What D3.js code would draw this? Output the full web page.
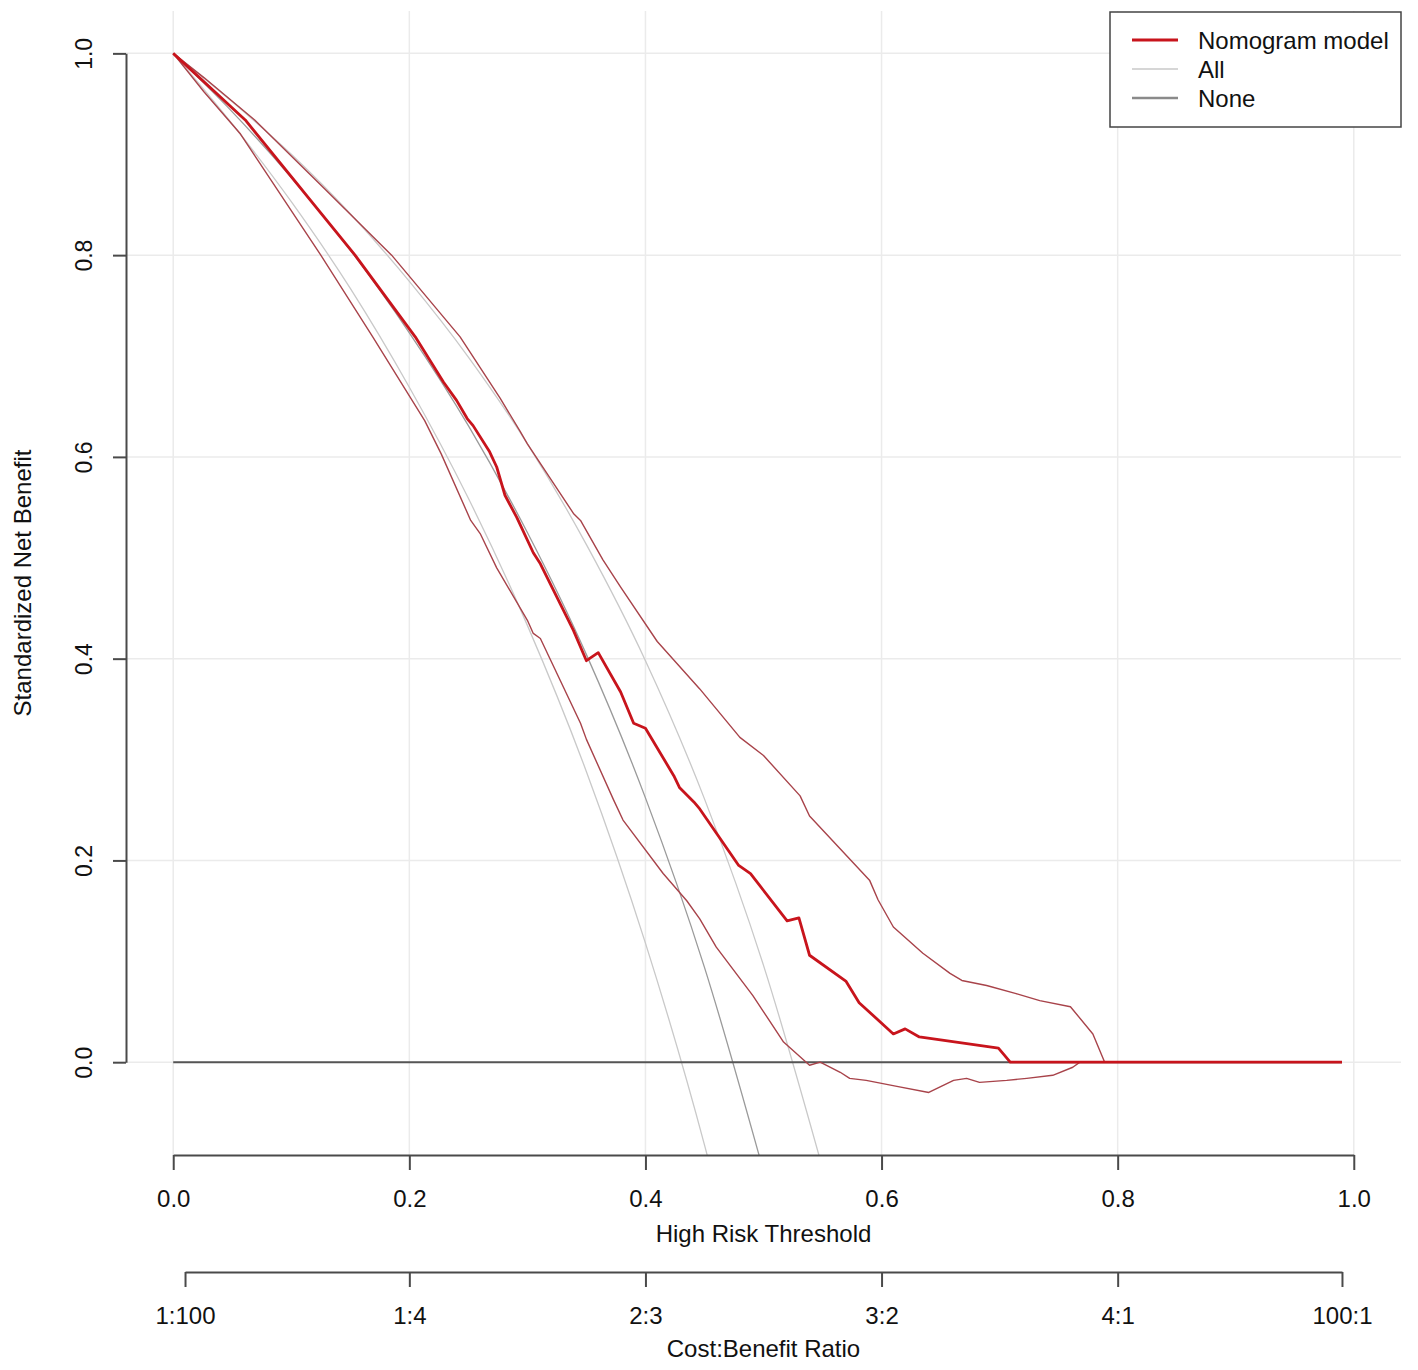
<!DOCTYPE html>
<html>
<head>
<meta charset="utf-8">
<script src="https://cdn.jsdelivr.net/npm/d3@7"></script>
<style>
  body { margin: 0; background: #fff; }
  text { font-family: "Liberation Sans", Arial, sans-serif; fill: #111; }
</style>
</head>
<body>
<svg id="chart" width="1418" height="1370"></svg>
<script>
// decision curve, values: [threshold, standardized net benefit]
var nomogram = [[0, 1.0], [0.061, 0.934], [0.154, 0.800], [0.205, 0.719], [0.229, 0.674],
  [0.240, 0.656], [0.249, 0.638], [0.254, 0.631], [0.268, 0.605],
  [0.274, 0.590], [0.281, 0.562], [0.291, 0.540], [0.305, 0.505], [0.311, 0.494],
  [0.339, 0.428], [0.350, 0.398], [0.360, 0.406], [0.379, 0.367], [0.390, 0.336],
  [0.400, 0.331], [0.424, 0.284], [0.429, 0.272], [0.441, 0.258], [0.446, 0.251],
  [0.479, 0.195], [0.489, 0.187], [0.520, 0.140], [0.530, 0.143], [0.539, 0.106],
  [0.570, 0.080], [0.581, 0.059], [0.610, 0.028], [0.620, 0.033], [0.632, 0.025],
  [0.699, 0.014], [0.709, 0], [0.99, 0]];

var nomogramUpper = [[0, 1.0], [0.026, 0.976], [0.069, 0.934], [0.128, 0.866], [0.185, 0.800],
  [0.243, 0.719], [0.277, 0.658], [0.294, 0.625], [0.300, 0.613],
  [0.339, 0.544], [0.345, 0.537], [0.364, 0.498], [0.379, 0.471], [0.410, 0.417],
  [0.446, 0.370], [0.480, 0.322], [0.500, 0.304], [0.531, 0.264], [0.539, 0.244],
  [0.590, 0.180], [0.597, 0.161], [0.610, 0.134], [0.635, 0.108], [0.658, 0.088],
  [0.668, 0.081], [0.689, 0.076], [0.714, 0.068], [0.734, 0.061], [0.760, 0.055],
  [0.779, 0.028], [0.789, 0], [0.99, 0]];

var nomogramLower = [[0, 1.0], [0.026, 0.962], [0.057, 0.920], [0.125, 0.800], [0.169, 0.719],
  [0.213, 0.636], [0.227, 0.603], [0.252, 0.537], [0.260, 0.524], [0.274, 0.490],
  [0.300, 0.438], [0.305, 0.425], [0.311, 0.420], [0.345, 0.336], [0.350, 0.320],
  [0.373, 0.260], [0.381, 0.240], [0.415, 0.187], [0.435, 0.160], [0.446, 0.142],
  [0.460, 0.114], [0.491, 0.066], [0.517, 0.020], [0.539, -0.003], [0.548, 0],
  [0.565, -0.010], [0.573, -0.016], [0.587, -0.018], [0.613, -0.024], [0.640, -0.030],
  [0.661, -0.018], [0.672, -0.016], [0.683, -0.020], [0.706, -0.018], [0.723, -0.016],
  [0.745, -0.013], [0.762, -0.005], [0.768, 0], [0.99, 0]];

var treatAll = [[0, 1], [0.05, 0.942], [0.1, 0.877], [0.15, 0.805], [0.2, 0.723], [0.25, 0.631],
  [0.3, 0.525], [0.35, 0.404], [0.4, 0.262], [0.45, 0.094], [0.5, -0.108]];
var treatAllUpper = [[0, 1], [0.05, 0.952], [0.1, 0.900], [0.15, 0.841], [0.2, 0.774], [0.25, 0.699],
  [0.3, 0.613], [0.35, 0.513], [0.4, 0.398], [0.45, 0.261], [0.5, 0.096], [0.55, -0.105]];
var treatAllLower = [[0, 1], [0.05, 0.930], [0.1, 0.853], [0.15, 0.767], [0.2, 0.669], [0.25, 0.559],
  [0.3, 0.433], [0.35, 0.288], [0.4, 0.118], [0.45, -0.082], [0.5, -0.322]];
var treatNone = [[0, 0], [0.99, 0]];

var xTicks = [0, 0.2, 0.4, 0.6, 0.8, 1.0];
var yTicks = [0, 0.2, 0.4, 0.6, 0.8, 1.0];
var cbTicks = [0.01, 0.2, 0.4, 0.6, 0.8, 0.99];
var cbLabels = ["1:100", "1:4", "2:3", "3:2", "4:1", "100:1"];

var svg = d3.select("#chart");

// plot region like R: limits padded by 4%
var x = d3.scaleLinear().domain([-0.04, 1.04]).range([126, 1401]);
var y = d3.scaleLinear().domain([-0.092, 1.042]).range([1155, 11]);

var axisCol = "#4a4a4a";

svg.append("clipPath").attr("id", "plotclip")
  .append("rect")
    .attr("x", x(-0.04)).attr("y", y(1.042))
    .attr("width", x(1.04) - x(-0.04))
    .attr("height", y(-0.092) - y(1.042));

// grid
var grid = svg.append("g");
grid.selectAll("line.v").data(xTicks).enter().append("line")
  .attr("x1", function(d){ return x(d); }).attr("x2", function(d){ return x(d); })
  .attr("y1", y(1.042)).attr("y2", y(-0.092))
  .attr("stroke", "#ebebeb").attr("stroke-width", 1.5);
grid.selectAll("line.h").data(yTicks).enter().append("line")
  .attr("y1", function(d){ return y(d); }).attr("y2", function(d){ return y(d); })
  .attr("x1", x(-0.04)).attr("x2", x(1.04))
  .attr("stroke", "#ebebeb").attr("stroke-width", 1.5);

var line = d3.line()
  .x(function(d){ return x(d[0]); })
  .y(function(d){ return y(d[1]); });
var smooth = d3.line()
  .x(function(d){ return x(d[0]); })
  .y(function(d){ return y(d[1]); })
  .curve(d3.curveMonotoneX);

var plot = svg.append("g").attr("clip-path", "url(#plotclip)");

plot.append("path").datum(treatAllLower).attr("d", smooth)
  .attr("fill", "none").attr("stroke", "#c9c9c9").attr("stroke-width", 1.3);
plot.append("path").datum(treatAllUpper).attr("d", smooth)
  .attr("fill", "none").attr("stroke", "#c9c9c9").attr("stroke-width", 1.3);
plot.append("path").datum(treatAll).attr("d", smooth)
  .attr("fill", "none").attr("stroke", "#9a9a9a").attr("stroke-width", 1.3);
plot.append("path").datum(treatNone).attr("d", line)
  .attr("fill", "none").attr("stroke", "#555555").attr("stroke-width", 2);

plot.append("path").datum(nomogramUpper).attr("d", line)
  .attr("fill", "none").attr("stroke", "#a8434a").attr("stroke-width", 1.4)
  .attr("stroke-linejoin", "round");
plot.append("path").datum(nomogramLower).attr("d", line)
  .attr("fill", "none").attr("stroke", "#a8434a").attr("stroke-width", 1.4)
  .attr("stroke-linejoin", "round");
plot.append("path").datum(nomogram).attr("d", line)
  .attr("fill", "none").attr("stroke", "#c8141c").attr("stroke-width", 2.8)
  .attr("stroke-linejoin", "round");

// axes
function styleAxis(g) {
  g.select(".domain").attr("stroke", axisCol).attr("stroke-width", 2);
  g.selectAll(".tick line").attr("stroke", axisCol).attr("stroke-width", 2);
  g.selectAll(".tick text").attr("fill", "#111")
    .style("font-family", "'Liberation Sans', Arial, sans-serif");
}

var xa = d3.scaleLinear().domain([0, 1]).range([x(0), x(1)]);
svg.append("g")
  .attr("transform", "translate(0," + y(-0.092) + ")")
  .call(d3.axisBottom(xa).tickValues(xTicks).tickSize(15).tickSizeOuter(0)
    .tickPadding(20).tickFormat(d3.format(".1f")))
  .call(styleAxis)
  .selectAll(".tick text").style("font-size", "24px");

var ya = d3.scaleLinear().domain([0, 1]).range([y(0), y(1)]);
var yg = svg.append("g")
  .attr("transform", "translate(" + x(-0.04) + ",0)")
  .call(d3.axisLeft(ya).tickValues(yTicks).tickSize(13).tickSizeOuter(0)
    .tickFormat(d3.format(".1f")))
  .call(styleAxis);
yg.selectAll(".tick text")
  .attr("transform", "rotate(-90)")
  .attr("x", 0).attr("y", -34).attr("dy", 0)
  .attr("text-anchor", "middle")
  .style("font-size", "23px");

var cb = d3.scaleLinear().domain([0.01, 0.99]).range([x(0.01), x(0.99)]);
svg.append("g")
  .attr("transform", "translate(0,1272)")
  .call(d3.axisBottom(cb).tickValues(cbTicks).tickSize(15).tickSizeOuter(0)
    .tickPadding(20).tickFormat(function(d, i){ return cbLabels[i]; }))
  .call(styleAxis)
  .selectAll(".tick text").style("font-size", "24px");

// titles
var midX = (x(-0.04) + x(1.04)) / 2;
svg.append("text").attr("x", midX).attr("y", 1242)
  .attr("text-anchor", "middle").style("font-size", "24px").text("High Risk Threshold");
svg.append("text").attr("x", midX).attr("y", 1357)
  .attr("text-anchor", "middle").style("font-size", "24px").text("Cost:Benefit Ratio");
svg.append("text")
  .attr("transform", "translate(31," + ((y(1.042) + y(-0.092)) / 2) + ") rotate(-90)")
  .attr("text-anchor", "middle").style("font-size", "24px").text("Standardized Net Benefit");

// legend
var legendItems = [
  {label: "Nomogram model", color: "#c8141c", width: 2.8},
  {label: "All", color: "#c9c9c9", width: 1.3},
  {label: "None", color: "#8a8a8a", width: 2.5}
];
var lg = svg.append("g").attr("transform", "translate(1110,12)");
lg.append("rect").attr("width", 291).attr("height", 115)
  .attr("fill", "#fff").attr("stroke", "#444").attr("stroke-width", 1.5);
var li = lg.selectAll("g.item").data(legendItems).enter().append("g")
  .attr("transform", function(d, i){ return "translate(0," + (28 + i * 29) + ")"; });
li.append("line").attr("x1", 22).attr("x2", 68)
  .attr("stroke", function(d){ return d.color; })
  .attr("stroke-width", function(d){ return d.width; });
li.append("text").attr("x", 88).attr("y", 8.5).style("font-size", "24px")
  .text(function(d){ return d.label; });
</script>
</body>
</html>
